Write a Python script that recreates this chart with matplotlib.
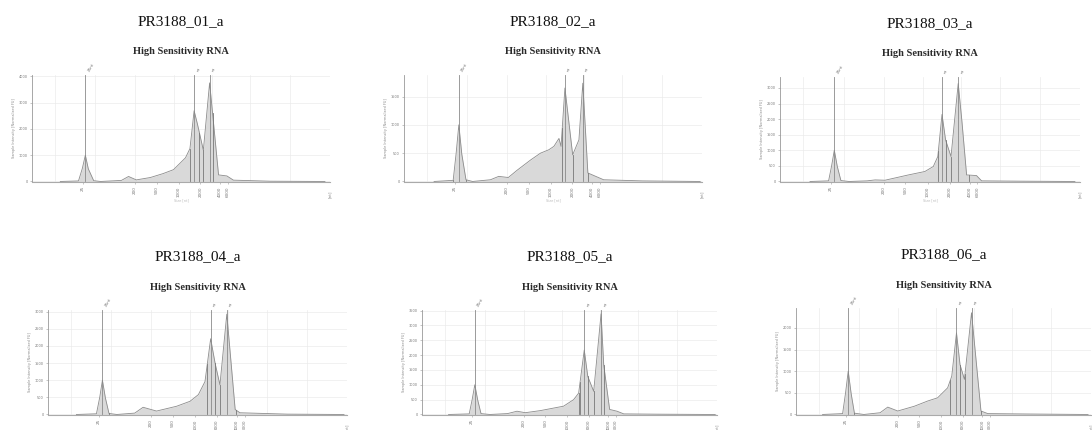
import numpy as np
import matplotlib
matplotlib.use("Agg")
import matplotlib.pyplot as plt

plt.rcParams["font.family"] = ["Liberation Serif", "DejaVu Serif"]

samples = ["PR3188_01_a", "PR3188_02_a", "PR3188_03_a",
           "PR3188_04_a", "PR3188_05_a", "PR3188_06_a"]
assay = "High Sensitivity RNA"

# x = relative run position (0-100), y = sample intensity [normalized FU]
pos_01 = [9.5, 15.6, 16.9, 17.9, 18.9, 20.7, 23, 30, 32.4, 35, 39.7, 44, 47.5, 51.5, 53.0, 54.4, 55.5, 57.5, 59.6, 60.3, 62.6, 65.4, 67.6, 80, 98.3]
fu_01 = [0, 20, 500, 1000, 480, 30, 0, 40, 190, 60, 150, 300, 450, 900, 1250, 2690, 2190, 1190, 3750, 2940, 250, 210, 50, 10, 0]

pos_02 = [10.1, 16.5, 17.5, 18.4, 19.4, 20.8, 23, 29, 31.8, 35, 38, 42.5, 45.8, 48.6, 50.3, 52, 52.7, 54, 56.6, 58.7, 60, 61.7, 67, 80, 99.4]
fu_02 = [0, 20, 500, 1000, 480, 30, 0, 30, 90, 70, 200, 380, 500, 560, 620, 760, 620, 1650, 470, 735, 1735, 150, 30, 10, 0]

pos_03 = [10, 16.2, 17.2, 18.1, 19.1, 20.3, 23, 29, 31.7, 35, 42.8, 48.3, 51.1, 52.6, 54, 55.2, 57, 59.4, 60.6, 62.2, 65.5, 67.2, 80, 98.3]
fu_03 = [0, 20, 500, 1000, 480, 30, 0, 20, 50, 40, 210, 320, 480, 800, 2150, 1330, 800, 3140, 1970, 210, 190, 20, 10, 0]

pos_04 = [9.5, 16.2, 17.3, 18.2, 19.2, 20.4, 23, 29, 31.8, 36.3, 43, 47.5, 50.3, 52.5, 54.4, 55.9, 57.5, 59.8, 62.6, 64.2, 80, 99]
fu_04 = [0, 20, 500, 1000, 480, 30, 0, 40, 210, 100, 240, 385, 580, 960, 2210, 1490, 865, 2930, 145, 50, 10, 0]

pos_05 = [9, 16, 17.0, 17.9, 18.9, 20, 23, 29, 32.2, 35, 40.1, 48, 51.4, 53.1, 55, 56.2, 58.2, 60.7, 61.6, 63.6, 66.1, 68.4, 80, 99.4]
fu_05 = [0, 20, 500, 1000, 480, 30, 0, 30, 110, 60, 130, 280, 500, 720, 2170, 1280, 780, 3390, 1670, 170, 110, 20, 10, 0]

pos_06 = [9, 15.8, 16.8, 17.7, 18.7, 19.8, 23, 28.5, 31.1, 34.5, 40.1, 44.6, 48, 51.4, 52.8, 54.4, 55.6, 57.1, 59.5, 62.7, 65, 80, 99]
fu_06 = [0, 20, 500, 1000, 480, 30, 0, 40, 170, 80, 190, 310, 385, 615, 885, 1885, 1150, 810, 2350, 80, 20, 10, 0]

traces = [(pos_01, fu_01), (pos_02, fu_02), (pos_03, fu_03),
          (pos_04, fu_04), (pos_05, fu_05), (pos_06, fu_06)]

# marker peaks: lower marker, 18S, 28S
peaks = [[17.9, 54.4, 59.6], [18.4, 54.0, 60.0], [18.1, 54.0, 59.4],
         [18.2, 54.4, 59.8], [17.9, 55.0, 60.7], [17.7, 54.4, 59.5]]
bounds = [[15.6, 20.7, 52.9, 56.2, 57.5, 60.6],
          [16.5, 20.8, 53.1, 56.6, 61.7],
          [16.2, 20.3, 52.8, 55.2, 57.0, 63.0],
          [16.2, 20.4, 53.3, 55.9, 57.5, 62.9],
          [16.0, 20.0, 53.1, 53.6, 56.2, 58.2, 61.6],
          [15.8, 19.8, 52.3, 55.6, 57.3, 62.7]]

y_top = [4050, 1880, 3350, 3050, 3520, 2460]
y_step = [1000, 500, 500, 500, 500, 500]
y_maxtick = [4000, 1500, 3000, 3000, 3500, 2000]

size_labels = ["25", "200", "500", "1000", "2000", "4000", "6000"]
size_pos = [17.0, 34.5, 41.8, 49.2, 56.5, 63.2, 65.8]
grid_x = [7.8, 21.2, 34.6, 47.5, 60.3, 73.2, 86.6]

# axes boxes in pixels: left, right, top, bottom
boxes = [(32, 330, 75, 182), (404, 702, 75, 182), (780, 1080, 77, 182),
         (48, 347, 310, 415), (422, 717, 310, 415), (796, 1091, 308, 415)]

W, H = 1092, 430
fig = plt.figure(figsize=(W / 100, H / 100), dpi=100)

for i, (l, r, t, b) in enumerate(boxes):
    ax = fig.add_axes([l / W, 1 - b / H, (r - l) / W, (b - t) / H])
    x, y = traces[i]
    ax.fill_between(x, y, 0, color="#d9d9d9", lw=0)
    ax.plot(x, y, color="#8c8c8c", lw=0.6)
    ax.set_xlim(0, 100)
    ax.set_ylim(-y_top[i] * 0.005, y_top[i])

    for p in peaks[i]:
        ax.plot([p, p], [0, y_top[i]], color="#8a8a8a", lw=0.6)
    for j, p in enumerate(peaks[i]):
        ax.text(p + 0.5, y_top[i] * 1.02, "25nt" if j == 0 else "nt",
                fontsize=3, rotation=60, color="#777777",
                ha="left", va="bottom", family="DejaVu Sans")
    for bx in bounds[i]:
        ax.plot([bx, bx], [0, np.interp(bx, x, y)], color="#777777", lw=0.6)

    ticks = np.arange(0, y_maxtick[i] + 1, y_step[i])
    ax.set_yticks(ticks)
    ax.set_yticklabels([str(v) for v in ticks], fontsize=2.5, color="#777777",
                       family="DejaVu Sans")
    ax.set_xticks(size_pos)
    ax.set_xticklabels(size_labels, fontsize=3, rotation=90, color="#777777",
                       family="DejaVu Sans")
    ax.tick_params(axis="both", length=1.5, width=0.4, color="#999999", pad=1.5)
    for v in ticks:
        ax.axhline(v, color="#ebebeb", lw=0.5, zorder=0)
    for g in grid_x:
        ax.axvline(g, color="#ebebeb", lw=0.5, zorder=0)

    for side in ["top", "right"]:
        ax.spines[side].set_visible(False)
    ax.spines["left"].set_color("#999999")
    ax.spines["left"].set_linewidth(0.6)
    ax.spines["bottom"].set_color("#aaaaaa")
    ax.spines["bottom"].set_linewidth(0.8)
    ax.set_ylabel("Sample Intensity [Normalized FU]", fontsize=2.5,
                  color="#888888", family="DejaVu Sans", labelpad=2)
    if i < 3:
        ax.set_xlabel("Size [nt]", fontsize=2.5, color="#bbbbbb",
                      family="DejaVu Sans", labelpad=1)
    ax.text(100, -0.08, "[nt]", transform=ax.get_xaxis_transform(),
            fontsize=3, rotation=90, color="#888888", ha="center", va="top",
            family="DejaVu Sans")

    cx = (l + r) / 2
    fig.text(cx / W, 1 - (t - 53) / H, samples[i], fontsize=11,
             ha="center", va="center", color="#111111")
    fig.text(cx / W, 1 - (t - 23) / H, assay, fontsize=7.5, fontweight="bold",
             ha="center", va="center", color="#2a2a2a")

fig.savefig("out.png", dpi=100)
